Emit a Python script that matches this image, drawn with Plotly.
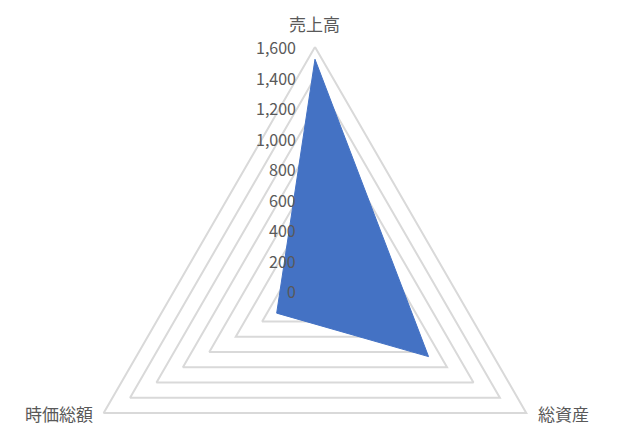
import numpy as np
import plotly.graph_objects as go

# radar chart data
categories = ["売上高", "総資産", "時価総額"]
values = [1520, 860, 290]
tick_values = [0, 200, 400, 600, 800, 1000, 1200, 1400, 1600]
tick_labels = ["0", "200", "400", "600", "800", "1,000", "1,200", "1,400", "1,600"]

# spoke directions: top, lower right, lower left
angles = np.radians([90, -30, 210])
r_max = tick_values[-1]

def to_xy(r):
    r = np.asarray(r, dtype=float)
    return r * np.cos(angles), r * np.sin(angles)

fig = go.Figure()

# triangular gridlines, one per tick level
gx, gy = [], []
for t in tick_values[1:]:
    x, y = to_xy([t] * 3)
    gx += list(x) + [x[0], None]
    gy += list(y) + [y[0], None]
fig.add_trace(go.Scatter(x=gx, y=gy, mode="lines",
                         line=dict(color="#d9d9d9", width=2),
                         hoverinfo="skip"))

# series polygon
px, py = to_xy(values)
fig.add_trace(go.Scatter(x=list(px) + [px[0]], y=list(py) + [py[0]],
                         mode="lines", fill="toself", fillcolor="#4472C4",
                         line=dict(color="#4472C4", width=1),
                         text=categories, name="系列1"))

font = "Noto Sans CJK JP"
grey = "#595959"

# value axis labels along the top spoke
for t, lab in zip(tick_values, tick_labels):
    fig.add_annotation(x=0, y=t, text=lab, showarrow=False,
                       xanchor="right", yanchor="middle", xshift=-17,
                       font=dict(family=font, size=16, color=grey))

# category labels at the outer vertices
ox, oy = to_xy([r_max] * 3)
fig.add_annotation(x=ox[0], y=oy[0], text=categories[0], showarrow=False,
                   xanchor="center", yanchor="bottom", yshift=10,
                   borderpad=0,
                   font=dict(family=font, size=17, color=grey))
fig.add_annotation(x=ox[1], y=oy[1], text=categories[1], showarrow=False,
                   xanchor="left", yanchor="middle", xshift=10,
                   font=dict(family=font, size=17, color=grey))
fig.add_annotation(x=ox[2], y=oy[2], text=categories[2], showarrow=False,
                   xanchor="right", yanchor="middle", xshift=-9,
                   font=dict(family=font, size=17, color=grey))

# page body has an 8px margin, so the ranges are offset to compensate
fig.update_xaxes(range=[-2013, 2092], visible=False, fixedrange=True)
fig.update_yaxes(range=[-990, 1856], visible=False, fixedrange=True)
fig.update_layout(width=626, height=434, showlegend=False,
                  margin=dict(l=0, r=0, t=0, b=0),
                  plot_bgcolor="white", paper_bgcolor="white")

fig.write_html("out.html")
